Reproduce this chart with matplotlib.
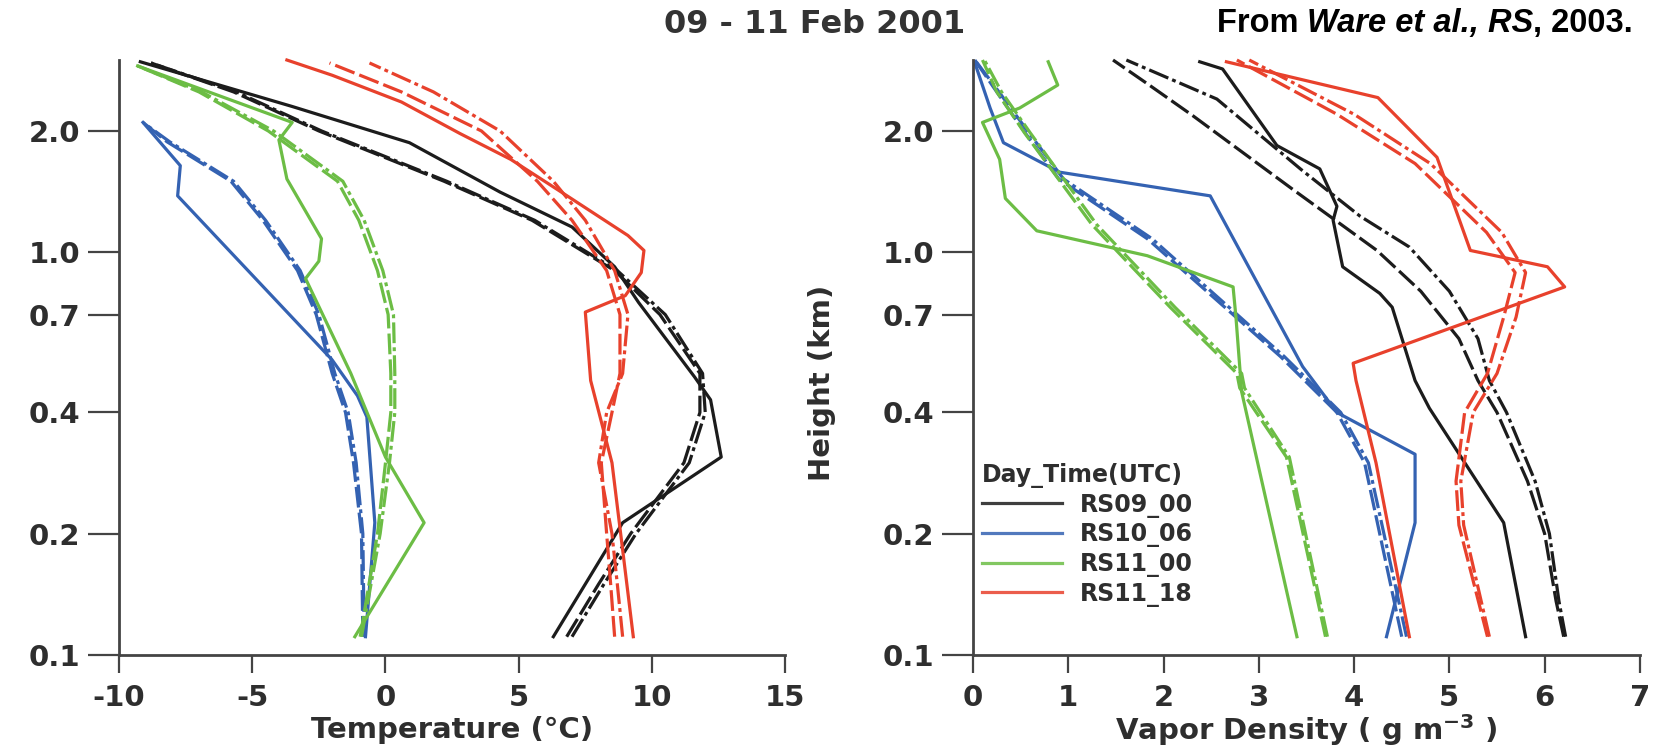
import matplotlib.pyplot as plt
from matplotlib.lines import Line2D
from matplotlib.offsetbox import TextArea, HPacker, AnchoredOffsetbox

plt.rcParams['font.family'] = ['DejaVu Sans']
plt.rcParams['font.weight'] = 'bold'
plt.rcParams['axes.labelweight'] = 'bold'
plt.rcParams['axes.unicode_minus'] = False
plt.rcParams['mathtext.fontset'] = 'custom'
plt.rcParams['mathtext.rm'] = 'DejaVu Sans:bold'
plt.rcParams['mathtext.bf'] = 'DejaVu Sans:bold'

# ---- datos: temperatura (panel izquierdo) ----
t_rs09_h = [0.111, 0.213, 0.31, 0.43, 0.49, 0.75, 0.92, 1.155, 1.41, 1.87, 2.3, 2.97]
t_rs09 = [6.3, 8.9, 12.6, 12.2, 11.6, 9.5, 8.6, 7.0, 4.3, 0.9, -3.5, -9.2]
ret_h = [0.111, 0.15, 0.2, 0.3, 0.4, 0.5, 0.7, 0.9, 1.2, 1.5, 2.0, 2.5, 2.95]
t_rs09_r1 = [6.8, 8.0, 9.2, 11.2, 11.8, 11.8, 10.3, 8.6, 5.5, 2.2, -2.5, -5.7, -8.8]
t_rs09_r2 = [7.0, 8.2, 9.4, 11.4, 12.0, 11.9, 10.5, 8.7, 5.6, 2.3, -2.4, -5.6, -8.8]

t_rs10_h = [0.111, 0.213, 0.39, 0.44, 0.54, 1.38, 1.64, 2.1]
t_rs10 = [-0.75, -0.4, -0.7, -1.05, -2.0, -7.8, -7.7, -9.1]
ret_h_b = [0.111, 0.2, 0.3, 0.4, 0.5, 0.7, 0.9, 1.2, 1.5, 1.88, 2.1]
t_rs10_r1 = [-0.85, -0.9, -1.2, -1.5, -2.0, -2.6, -3.3, -4.6, -5.8, -8.2, -9.1]
t_rs10_r2 = [-0.8, -0.85, -1.1, -1.4, -1.9, -2.5, -3.2, -4.5, -5.7, -8.1, -9.1]

t_rs11a_h = [0.111, 0.213, 0.31, 0.5, 0.86, 0.95, 1.08, 1.52, 1.9, 2.1, 2.9]
t_rs11a = [-1.15, 1.45, 0.0, -1.3, -3.0, -2.5, -2.4, -3.7, -4.0, -3.5, -9.3]
ret_h_g = [0.111, 0.2, 0.3, 0.4, 0.5, 0.7, 0.9, 1.2, 1.5, 2.0, 2.5, 2.9]
t_rs11a_r1 = [-0.95, -0.3, 0.0, 0.2, 0.2, 0.1, -0.3, -1.0, -1.8, -4.4, -7.0, -9.3]
t_rs11a_r2 = [-0.9, -0.2, 0.15, 0.35, 0.35, 0.3, -0.1, -0.8, -1.6, -4.2, -6.9, -9.3]

t_rs11b_h = [0.111, 0.3, 0.48, 0.71, 0.78, 0.89, 1.01, 1.1, 1.41, 1.7, 1.97, 2.36, 2.75, 3.0]
t_rs11b = [9.3, 8.5, 7.7, 7.5, 9.0, 9.6, 9.7, 9.1, 6.6, 4.7, 2.8, 0.6, -2.0, -3.7]
t_rs11b_r1 = [8.6, 8.45, 8.3, 8.1, 8.5, 8.8, 8.8, 8.3, 7.0, 5.7, 3.6, 0.6, -2.1]
t_rs11b_r2 = [8.9, 8.7, 8.5, 8.0, 8.3, 8.9, 9.1, 8.6, 7.5, 6.3, 4.3, 1.8, -0.6]

# ---- datos: densidad de vapor (panel derecho) ----
v_rs09_h = [0.111, 0.213, 0.41, 0.48, 0.73, 0.79, 0.92, 1.2, 1.3, 1.61, 1.84, 2.85, 2.97]
v_rs09 = [5.8, 5.57, 4.79, 4.64, 4.4, 4.27, 3.88, 3.78, 3.82, 3.64, 3.19, 2.62, 2.38]
v_ret_h9a = [0.111, 0.136, 0.2, 0.27, 0.4, 0.48, 0.61, 0.8, 1.01, 1.43, 2.18, 2.6, 3.0]
v_rs09_r1 = [6.2, 6.12, 6.0, 5.82, 5.5, 5.3, 5.1, 4.7, 4.24, 3.36, 2.31, 1.85, 1.47]
v_ret_h9b = [0.111, 0.136, 0.2, 0.27, 0.4, 0.48, 0.61, 0.8, 1.03, 1.23, 1.6, 2.4, 3.0]
v_rs09_r2 = [6.22, 6.15, 6.05, 5.9, 5.6, 5.42, 5.3, 5.0, 4.58, 4.06, 3.45, 2.56, 1.61]

v_rs10_h = [0.111, 0.213, 0.315, 0.4, 0.52, 1.38, 1.58, 1.87, 2.28, 2.95]
v_rs10 = [4.34, 4.64, 4.64, 3.82, 3.46, 2.49, 0.91, 0.32, 0.18, 0.02]
v_ret_h10 = [0.111, 0.3, 0.4, 0.55, 1.08, 1.52, 1.99, 2.6, 3.0]
v_rs10_r1 = [4.5, 4.11, 3.82, 3.23, 1.83, 0.9, 0.54, 0.2, 0.02]
v_rs10_r2 = [4.55, 4.15, 3.86, 3.27, 1.88, 0.95, 0.58, 0.22, 0.02]

v_rs11a_h = [0.111, 0.45, 0.69, 0.82, 0.98, 1.13, 1.36, 1.7, 2.1, 2.28, 2.6, 2.97]
v_rs11a = [3.4, 2.82, 2.76, 2.73, 1.83, 0.67, 0.34, 0.28, 0.1, 0.49, 0.89, 0.79]
v_ret_h11a = [0.111, 0.31, 0.46, 0.5, 0.73, 1.17, 1.98, 2.5, 3.0]
v_rs11a_r1 = [3.7, 3.29, 2.8, 2.77, 2.07, 1.25, 0.54, 0.25, 0.1]
v_rs11a_r2 = [3.72, 3.32, 2.85, 2.82, 2.12, 1.3, 0.6, 0.3, 0.12]

v_rs11b_h = [0.111, 0.3, 0.48, 0.53, 0.82, 0.92, 1.01, 1.72, 2.42, 2.97]
v_rs11b = [4.58, 4.23, 4.02, 3.99, 6.21, 6.03, 5.22, 4.87, 4.25, 2.66]
v_ret_h11b = [0.111, 0.21, 0.27, 0.4, 0.5, 0.69, 0.89, 1.12, 1.66, 2.2, 3.0]
v_rs11b_r1 = [5.4, 5.1, 5.07, 5.16, 5.4, 5.57, 5.69, 5.39, 4.64, 3.82, 2.77]
v_rs11b_r2 = [5.42, 5.15, 5.12, 5.25, 5.5, 5.7, 5.8, 5.55, 4.8, 4.0, 2.9]

etiquetas = ['RS09_00', 'RS10_06', 'RS11_00', 'RS11_18']
colores = ['#1c1c1c', '#3462b2', '#6cbd45', '#e8412c']
yticks = [0.1, 0.2, 0.4, 0.7, 1.0, 2.0]
ytick_labels = ['0.1', '0.2', '0.4', '0.7', '1.0', '2.0']

gris = '#2e2e2e'
lw = 2.3
guion = (0, (6.5, 1.6))
guion_punto = (0, (6.5, 1.3, 1.2, 1.3))

fig = plt.figure(figsize=(16.53, 7.55), dpi=100)
ax1 = fig.add_axes([0.072, 0.1325, 0.403, 0.788])
ax2 = fig.add_axes([0.5886, 0.1325, 0.4035, 0.788])

izq = [
    (t_rs09_h, t_rs09, ret_h, t_rs09_r1, ret_h, t_rs09_r2),
    (t_rs10_h, t_rs10, ret_h_b, t_rs10_r1, ret_h_b, t_rs10_r2),
    (t_rs11a_h, t_rs11a, ret_h_g, t_rs11a_r1, ret_h_g, t_rs11a_r2),
    (t_rs11b_h, t_rs11b, ret_h, t_rs11b_r1, ret_h, t_rs11b_r2),
]
der = [
    (v_rs09_h, v_rs09, v_ret_h9a, v_rs09_r1, v_ret_h9b, v_rs09_r2),
    (v_rs10_h, v_rs10, v_ret_h10, v_rs10_r1, v_ret_h10, v_rs10_r2),
    (v_rs11a_h, v_rs11a, v_ret_h11a, v_rs11a_r1, v_ret_h11a, v_rs11a_r2),
    (v_rs11b_h, v_rs11b, v_ret_h11b, v_rs11b_r1, v_ret_h11b, v_rs11b_r2),
]

for ax, series in [(ax1, izq), (ax2, der)]:
    for c, (h0, x0, h1, x1, h2, x2) in zip(colores, series):
        ax.plot(x1, h1, color=c, lw=lw, linestyle=guion, clip_on=False)
        ax.plot(x2, h2, color=c, lw=lw, linestyle=guion_punto, clip_on=False)
        ax.plot(x0, h0, color=c, lw=lw, clip_on=False)

for ax in (ax1, ax2):
    ax.set_yscale('log')
    ax.set_ylim(0.1, 3.0)
    ax.set_yticks(yticks)
    ax.set_yticklabels(ytick_labels)
    ax.minorticks_off()
    for s in ('top', 'right'):
        ax.spines[s].set_visible(False)
    for s in ('left', 'bottom'):
        ax.spines[s].set_linewidth(2.0)
        ax.spines[s].set_color('#444444')
    ax.tick_params(axis='y', length=22, width=1.6, pad=6, colors='#444444',
                   labelsize=21, labelcolor=gris)
    ax.tick_params(axis='x', length=13, width=1.6, pad=8, colors='#444444',
                   labelsize=21, labelcolor=gris)

ax1.set_xlim(-10, 15)
ax1.set_xticks([-10, -5, 0, 5, 10, 15])
ax1.set_xlabel('Temperature (°C)', fontsize=21, color=gris, labelpad=3)

ax2.set_xlim(0, 7)
ax2.set_xticks(range(0, 8))
ax2.set_xlabel(r'Vapor Density ( g m$^{\mathbf{-3}}$ )', fontsize=21, color=gris, labelpad=0)
ax2.set_ylabel('Height (km)', fontsize=21, color=gris)
ax2.yaxis.set_label_coords(-0.205, 0.457)

handles = [Line2D([], [], color=c, lw=lw, alpha=0.85) for c in colores]
leg = ax2.legend(handles, etiquetas, loc='upper left', bbox_to_anchor=(0.594, 0.387),
                 bbox_transform=fig.transFigure, frameon=False, title='Day_Time(UTC)',
                 fontsize=17, title_fontsize=17, handlelength=3.4, handletextpad=0.76,
                 labelspacing=0.2, borderpad=0, borderaxespad=0, alignment='left')
for t in leg.get_texts():
    t.set_color(gris)
leg.get_title().set_color(gris)

fig.text(0.493, 0.968, '09 - 11 Feb 2001', fontsize=23, color='#333333',
         ha='center', va='center')

props = dict(fontsize=23.5, color='black', fontweight='bold',
             family=['Liberation Sans', 'DejaVu Sans'])
partes = [
    TextArea('From ', textprops=props),
    TextArea('Ware et al., RS', textprops=dict(props, style='italic')),
    TextArea(', 2003.', textprops=props),
]
caja = HPacker(children=partes, align='baseline', pad=0, sep=0)
anc = AnchoredOffsetbox(loc='upper right', child=caja, pad=0, frameon=False,
                        bbox_to_anchor=(0.988, 0.99), bbox_transform=fig.transFigure,
                        borderpad=0)
fig.add_artist(anc)

fig.savefig('out.png', dpi=100)
